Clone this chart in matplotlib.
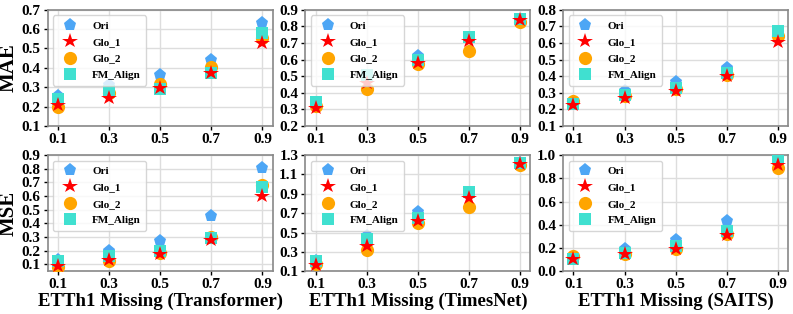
import matplotlib
matplotlib.use('Agg')
import matplotlib.pyplot as plt
import numpy as np

plt.rcParams['font.family'] = ['Liberation Serif', 'DejaVu Serif']
plt.rcParams['font.weight'] = 'bold'

rates = [0.1, 0.3, 0.5, 0.7, 0.9]
methods = ['Ori', 'Glo_1', 'Glo_2', 'FM_Align']

# MAE, one list per method
mae_transformer = {
    'Ori':      [0.253, 0.309, 0.361, 0.443, 0.634],
    'Glo_1':    [0.208, 0.244, 0.297, 0.375, 0.530],
    'Glo_2':    [0.200, 0.270, 0.317, 0.404, 0.555],
    'FM_Align': [0.238, 0.280, 0.292, 0.375, 0.580],
}
mae_timesnet = {
    'Ori':      [0.340, 0.500, 0.620, 0.730, 0.840],
    'Glo_1':    [0.310, 0.457, 0.582, 0.713, 0.838],
    'Glo_2':    [0.320, 0.423, 0.572, 0.649, 0.824],
    'FM_Align': [0.345, 0.508, 0.600, 0.733, 0.844],
}
mae_saits = {
    'Ori':      [0.235, 0.313, 0.362, 0.448, 0.660],
    'Glo_1':    [0.228, 0.267, 0.311, 0.398, 0.605],
    'Glo_2':    [0.250, 0.280, 0.320, 0.410, 0.643],
    'FM_Align': [0.235, 0.285, 0.331, 0.422, 0.673],
}
# MSE
mse_transformer = {
    'Ori':      [0.129, 0.197, 0.270, 0.452, 0.808],
    'Glo_1':    [0.088, 0.129, 0.178, 0.282, 0.597],
    'Glo_2':    [0.080, 0.124, 0.185, 0.301, 0.682],
    'FM_Align': [0.124, 0.165, 0.202, 0.294, 0.665],
}
mse_timesnet = {
    'Ori':      [0.210, 0.463, 0.707, 0.910, 1.220],
    'Glo_1':    [0.170, 0.358, 0.620, 0.857, 1.206],
    'Glo_2':    [0.180, 0.316, 0.595, 0.759, 1.200],
    'FM_Align': [0.210, 0.438, 0.655, 0.916, 1.216],
}
mse_saits = {
    'Ori':      [0.110, 0.195, 0.268, 0.431, 0.960],
    'Glo_1':    [0.108, 0.146, 0.195, 0.312, 0.913],
    'Glo_2':    [0.130, 0.150, 0.190, 0.320, 0.889],
    'FM_Align': [0.110, 0.160, 0.219, 0.350, 0.971],
}

styles = {
    'Ori':      dict(marker='p', color='#4da6f5', ms=9.5, zorder=2),
    'Glo_1':    dict(marker='*', color='#ff0000', ms=11.5, zorder=5),
    'Glo_2':    dict(marker='o', color='#ffa500', ms=9.5, zorder=3),
    'FM_Align': dict(marker='s', color='#40e0d0', ms=8.5, zorder=4),
}

panels = [
    (mae_transformer, 'MAE', None, (0.1, 0.7), np.arange(0.1, 0.71, 0.1)),
    (mae_timesnet, None, None, (0.2, 0.9), np.arange(0.2, 0.91, 0.1)),
    (mae_saits, None, None, (0.1, 0.8), np.arange(0.1, 0.81, 0.1)),
    (mse_transformer, 'MSE', 'ETTh1 Missing (Transformer)', (0.05, 0.9), np.arange(0.1, 0.91, 0.1)),
    (mse_timesnet, None, 'ETTh1 Missing (TimesNet)', (0.1, 1.3), np.arange(0.1, 1.31, 0.2)),
    (mse_saits, None, 'ETTh1 Missing (SAITS)', (0.0, 1.0), np.arange(0.0, 1.01, 0.2)),
]

fig, axes = plt.subplots(2, 3, figsize=(7.93, 3.14), dpi=100)
plt.subplots_adjust(left=0.060, right=0.994, top=0.969, bottom=0.136,
                    wspace=0.146, hspace=0.25)

for ax, (data, ylab, xlab, ylim, yt) in zip(axes.flat, panels):
    for m in methods:
        st = styles[m]
        ax.plot(rates, data[m], linestyle='none', marker=st['marker'],
                color=st['color'], markersize=st['ms'], zorder=st['zorder'],
                markeredgewidth=0, label=m)
    ax.set_ylim(*ylim)
    ax.set_yticks(yt)
    ax.set_yticklabels(['%.1f' % v for v in yt])
    ax.set_xticks(rates)
    ax.set_xticklabels(['%.1f' % v for v in rates])
    ax.tick_params(labelsize=11, length=3, width=1, pad=2)
    ax.grid(True, color='#dddddd', linewidth=1, zorder=0)
    ax.set_axisbelow(True)
    for sp in ax.spines.values():
        sp.set_color('#888888')
        sp.set_linewidth(1.2)
    if ylab:
        ax.set_ylabel(ylab, fontsize=15, fontweight='bold', labelpad=2)
    if xlab:
        ax.set_xlabel(xlab, fontsize=13.5, fontweight='bold', labelpad=1)
    ax.legend(loc='upper left', prop={'size': 8, 'weight': 'bold'},
              handletextpad=1.0, borderpad=0.5, labelspacing=0.6)

plt.savefig('out.png', dpi=100)
